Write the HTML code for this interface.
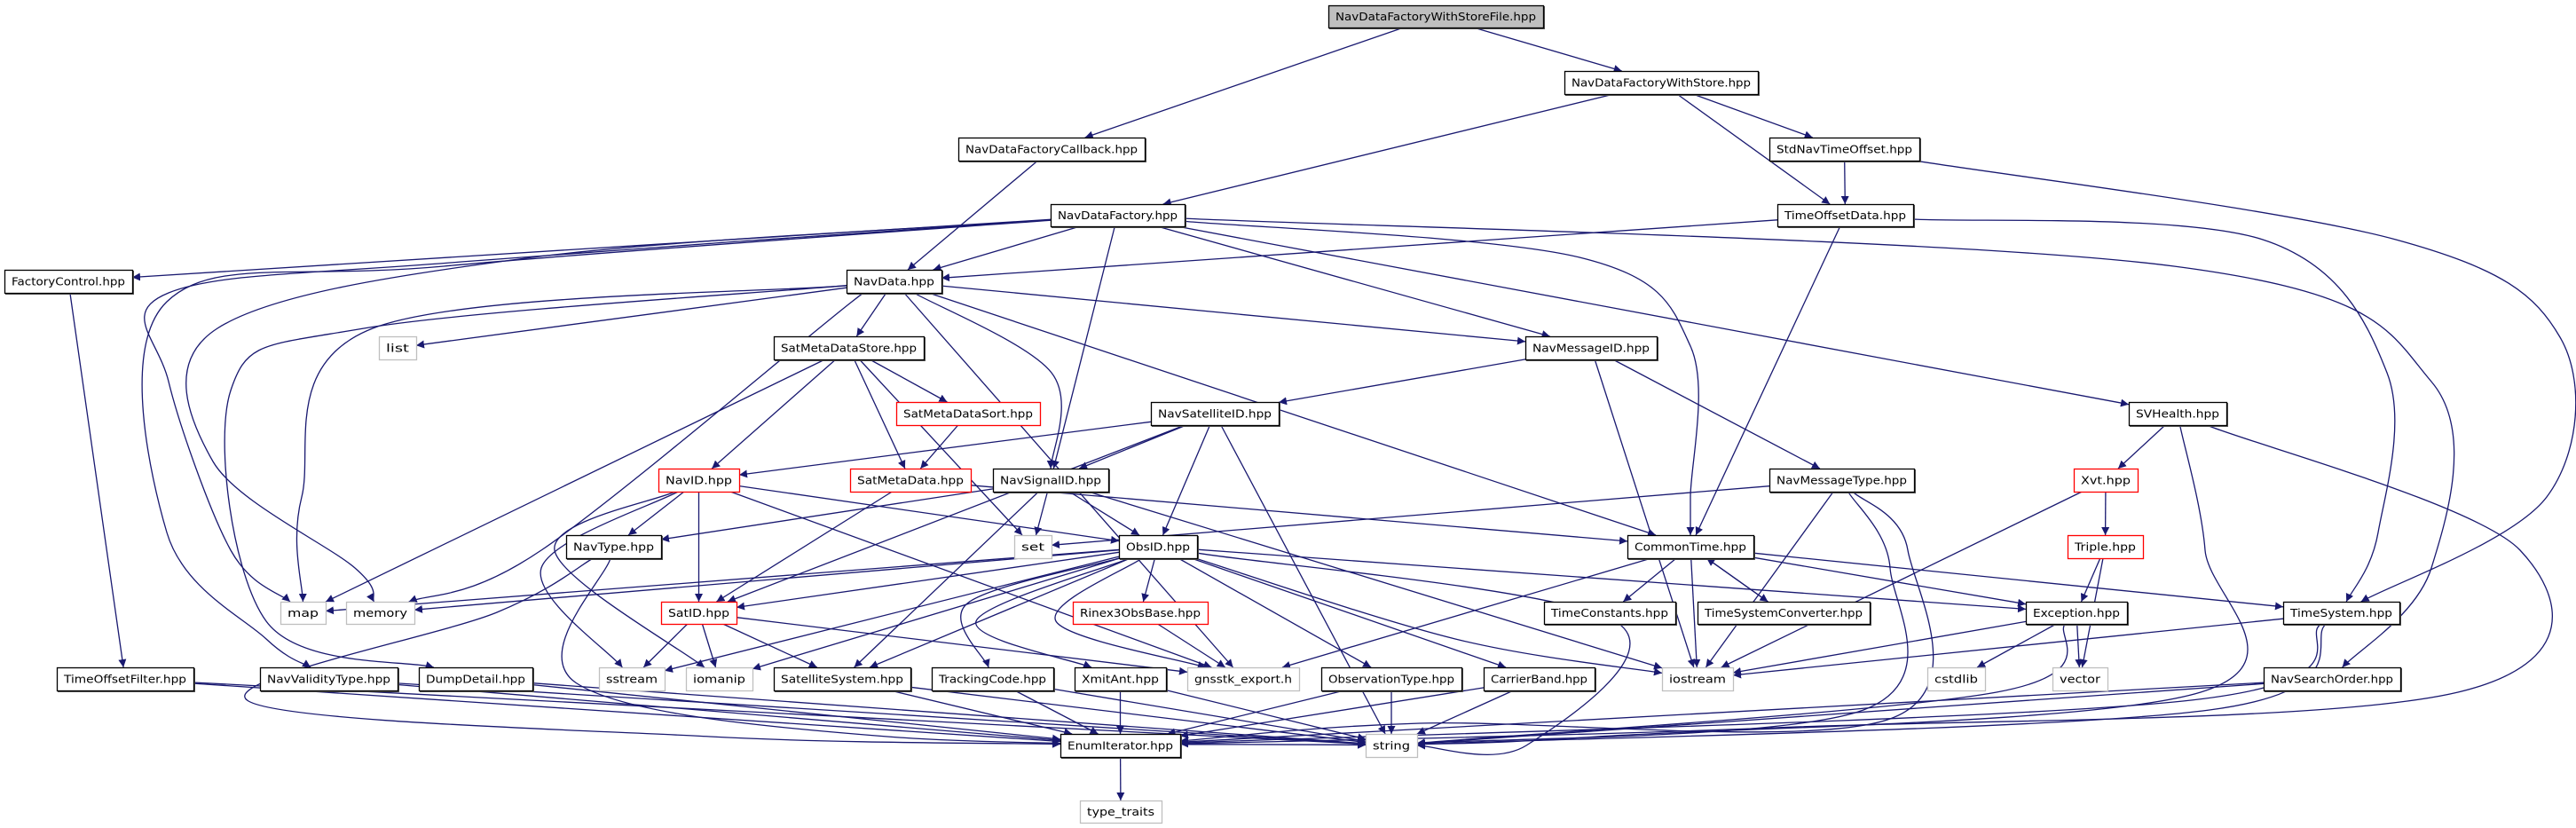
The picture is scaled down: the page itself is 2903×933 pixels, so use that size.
<!DOCTYPE html>
<html><head><meta charset="utf-8"><style>
html,body{margin:0;padding:0;background:#fff;}
svg{display:block}
text{font-family:"DejaVu Sans","Liberation Sans",sans-serif;font-size:12px;fill:#000}
</style></head><body>
<svg id="g" width="2903" height="933" viewBox="0 0 2903 933" xmlns="http://www.w3.org/2000/svg">
<defs><marker id="a" viewBox="0 0 10 10" refX="10" refY="5" markerWidth="9" markerHeight="9" markerUnits="userSpaceOnUse" orient="auto"><path d="M0,0L10,5L0,10z" fill="#191970"/></marker></defs>
<g id="E" fill="none" stroke="#191970" stroke-width="1.3"></g>
<g id="N"></g>
</svg>
<script>
var N={
F:[1497,6,1739,31,"NavDataFactoryWithStoreFile.hpp","f"],
WS:[1763,80,1981,106,"NavDataFactoryWithStore.hpp"],
CB:[1080,155,1290,181,"NavDataFactoryCallback.hpp"],
SNT:[1994,155,2163,181,"StdNavTimeOffset.hpp"],
DF:[1184,230,1335,255,"NavDataFactory.hpp"],
TOD:[2003,230,2156,255,"TimeOffsetData.hpp"],
FC:[5,304,149,330,"FactoryControl.hpp"],
ND:[954,304,1061,330,"NavData.hpp"],
list:[427,379,469,405,"list","g"],
SMS:[872,379,1041,405,"SatMetaDataStore.hpp"],
NMI:[1719,379,1867,405,"NavMessageID.hpp"],
SMSo:[1010,453,1172,479,"SatMetaDataSort.hpp","r"],
NSI:[1297,453,1441,479,"NavSatelliteID.hpp"],
SVH:[2399,453,2509,479,"SVHealth.hpp"],
NID:[742,528,833,554,"NavID.hpp","r"],
SMD:[958,528,1094,554,"SatMetaData.hpp","r"],
NSig:[1119,528,1249,554,"NavSignalID.hpp"],
NMT:[1994,528,2157,554,"NavMessageType.hpp"],
Xvt:[2337,528,2409,554,"Xvt.hpp","r"],
NT:[638,603,745,629,"NavType.hpp"],
set:[1143,603,1185,629,"set","g"],
OID:[1261,603,1349,629,"ObsID.hpp"],
CT:[1834,603,1976,629,"CommonTime.hpp"],
Tri:[2330,603,2415,629,"Triple.hpp","r"],
map:[316,678,367,703,"map","g"],
mem:[390,678,467,703,"memory","g"],
SID:[745,678,830,703,"SatID.hpp","r"],
R3:[1209,678,1361,703,"Rinex3ObsBase.hpp","r"],
TC:[1740,678,1888,703,"TimeConstants.hpp"],
TSC:[1913,678,2107,703,"TimeSystemConverter.hpp"],
Exc:[2283,678,2397,703,"Exception.hpp"],
TS:[2573,678,2704,703,"TimeSystem.hpp"],
TOF:[64,752,218,778,"TimeOffsetFilter.hpp"],
NVT:[293,752,448,778,"NavValidityType.hpp"],
DD:[472,752,600,778,"DumpDetail.hpp"],
ss:[675,752,749,778,"sstream","g"],
iom:[773,752,848,778,"iomanip","g"],
SS:[872,752,1026,778,"SatelliteSystem.hpp"],
TrC:[1050,752,1187,778,"TrackingCode.hpp"],
XA:[1211,752,1314,778,"XmitAnt.hpp"],
gx:[1338,752,1464,778,"gnsstk_export.h","g"],
OT:[1489,752,1647,778,"ObservationType.hpp"],
CBd:[1672,752,1797,778,"CarrierBand.hpp"],
ios:[1873,752,1953,778,"iostream","g"],
cst:[2172,752,2237,778,"cstdlib","g"],
vec:[2313,752,2375,778,"vector","g"],
NSO:[2551,752,2705,778,"NavSearchOrder.hpp"],
EI:[1195,827,1330,853,"EnumIterator.hpp"],
str:[1539,827,1597,853,"string","g"],
tt:[1217,902,1309,927,"type_traits","g"]
};
var E="F>CB F>WS WS>DF WS>SNT WS>TOD CB>ND SNT>TOD SNT>TS@2700,270;2885,380;2870,560 TOD>ND TOD>CT TOD>TS@2550,270;2690,420;2680,600 DF>FC DF>ND DF>NMI DF>NSig DF>CT@1780,290;1905,390;1905,560 DF>SVH DF>NSO@2450,300;2740,430;2740,640 DF>map@520,295;190,330;190,430;260,620 DF>mem@600,290;245,370;240,520;400,640 DF>NVT@500,300;188,340;188,600;300,720 FC>TOF ND>SMS ND>list ND>NMI ND>NSig@1185,420 ND>CT ND>map@420,370;340,560 ND>mem@960,340;610,620 ND>DD@410,370;260,440;300,700 ND>gx SMS>NID SMS>SMSo SMS>SMD SMS>set SMS>map SMSo>SMD SMD>SID SMD>CT NMI>NSI NMI>NMT NMI>ios NSI>NID NSI>NSig NSI>OID NSI>SID NSI>str NSig>set NSig>OID NSig>NT NSig>SS NSig>ios NID>NT NID>SID NID>OID NID>ss@610,640 NID>iom@625,620 NID>gx NT>str@650,770;1000,830 NT>EI@560,690;280,790;800,830 SID>ss SID>iom SID>SS SID>gx OID>map OID>mem OID>SID OID>R3 OID>TrC@1090,680 OID>XA@1100,700 OID>gx@1190,700 OID>OT OID>CBd OID>ios@1640,720 OID>ss OID>iom OID>Exc OID>SS OID>str@1820,700;1720,840 R3>gx CT>TC CT>TSC CT>Exc CT>TS CT>gx CT>ios TSC>CT NMT>set NMT>str@2130,640;2100,800 NMT>EI@2150,620;2130,810;1600,815 NMT>ios SVH>Xvt SVH>str@2485,620;2480,780;1800,830 SVH>EI@2840,620;2770,780;2000,820 Xvt>Tri Xvt>ios Tri>Exc Tri>vec Exc>ios Exc>cst Exc>vec Exc>str@2250,780 TS>ios TS>str@2490,800 TS>EI@2460,790 NSO>EI NSO>str TOF>EI TOF>str NVT>EI NVT>str DD>EI DD>str SS>EI SS>str TrC>EI TrC>str XA>EI XA>str OT>EI OT>str CBd>EI CBd>str EI>tt";
var NS="http://www.w3.org/2000/svg";
function el(t,a,p){var e=document.createElementNS(NS,t);for(var k in a)e.setAttribute(k,a[k]);p.appendChild(e);return e;}
var gN=document.getElementById("N"),gE=document.getElementById("E");
function bp(n,tx,ty){var cx=(n[0]+n[2])/2,cy=(n[1]+n[3])/2,dx=tx-cx,dy=ty-cy,hw=(n[2]-n[0])/2,hh=(n[3]-n[1])/2;
var s=Math.min(dx?hw/Math.abs(dx):1e9,dy?hh/Math.abs(dy):1e9);return [cx+dx*s,cy+dy*s];}
function f(v){return v.toFixed(1);}
E.split(" ").forEach(function(p){var w=p.split("@"),q=w[0].split(">"),a=N[q[0]],b=N[q[1]];
var wp=w[1]?w[1].split(";").map(function(s){return s.split(",").map(Number);}):[];
var ac=[(a[0]+a[2])/2,(a[1]+a[3])/2],bc=[(b[0]+b[2])/2,(b[1]+b[3])/2];
var f1=wp.length?wp[0]:bc,l1=wp.length?wp[wp.length-1]:ac;
var s=bp(a,f1[0],f1[1]),t=bp(b,l1[0],l1[1]);
var P=[s].concat(wp,[t]),d="M"+f(s[0])+","+f(s[1]);
if(P.length==2)d+="L"+f(t[0])+","+f(t[1]);
else for(var i=0;i<P.length-1;i++){var p0=P[Math.max(0,i-1)],p1=P[i],p2=P[i+1],p3=P[Math.min(P.length-1,i+2)];
d+="C"+f(p1[0]+(p2[0]-p0[0])/6)+","+f(p1[1]+(p2[1]-p0[1])/6)+" "+f(p2[0]-(p3[0]-p1[0])/6)+","+f(p2[1]-(p3[1]-p1[1])/6)+" "+f(p2[0])+","+f(p2[1]);}
el("path",{d:d,"marker-end":"url(#a)"},gE);});
for(var k in N){var n=N[k],c=n[5]=="g"?"#bfbfbf":n[5]=="r"?"#ff0000":"#000";
var w=n[2]-n[0],h=n[3]-n[1];
if(!n[5]||n[5]=="f"){el("path",{d:"M"+(n[0]+1)+","+(n[3]+1)+"H"+(n[2]+1)+"V"+(n[1]+1),fill:"none",stroke:"#555","stroke-width":2},gN);}
el("rect",{x:n[0]+.5,y:n[1]+.5,width:w,height:h,fill:n[5]=="f"?"#bfbfbf":"#fff",stroke:c,"stroke-width":1.3},gN);
var t=el("text",{x:(n[0]+n[2])/2,y:n[1]+h/2+4.5,"text-anchor":"middle",textLength:Math.max(8,w-16),lengthAdjust:"spacingAndGlyphs"},gN);
t.textContent=n[4];}
</script>
</body></html>
